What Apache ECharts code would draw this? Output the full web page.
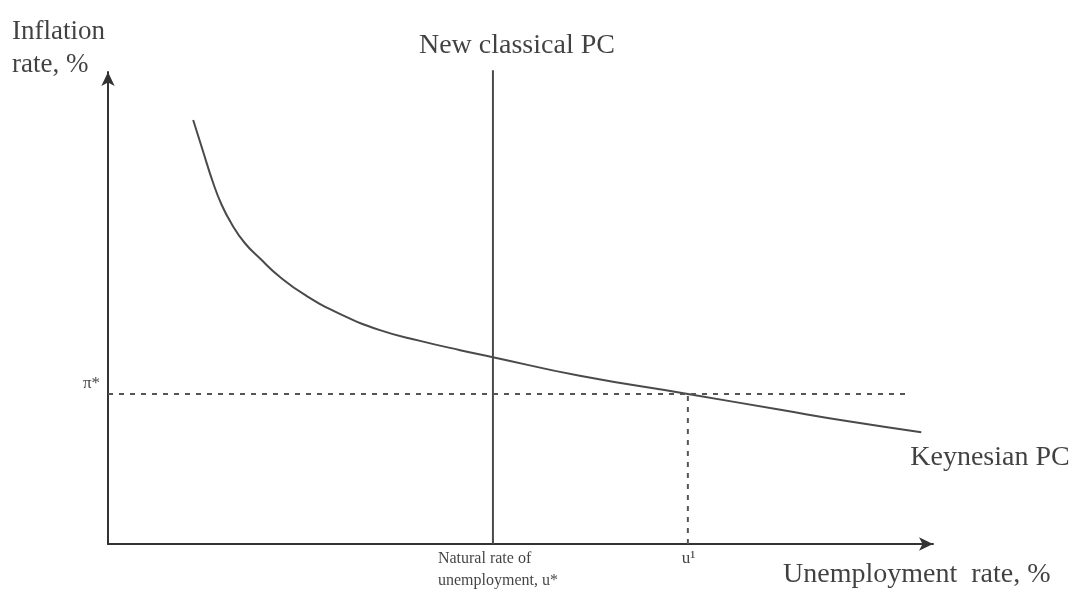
<!DOCTYPE html>
<html>
<head>
<meta charset="utf-8">
<script src="https://cdn.jsdelivr.net/npm/echarts@6/dist/echarts.min.js"></script>
<style>
html,body{margin:0;padding:0;background:#fff;}
#c{width:1083px;height:594px;}
</style>
</head>
<body>
<div id="c"></div>
<script>
// Keynesian Phillips curve points (unemployment %, inflation %)
const keynesU  = [10.4, 11.6, 12.8, 13.9, 15.1, 16.7, 18.6, 21.0, 24.1, 28.3, 33.2, 38.1, 43.0, 47.0, 57.6, 70.8, 82.1, 90.2, 99.3];
const keynesPi = [91.0, 84.3, 77.7, 72.7, 68.7, 64.6, 61.2, 57.3, 53.4, 49.4, 45.9, 43.6, 41.6, 40.1, 36.1, 32.2, 28.8, 26.4, 24.0];
// New classical PC: vertical at natural rate
const naturalRate = 47.0;
const classicalTop = 101.7;
// Reference levels
const piStar = 32.2;
const u1 = 70.8;
const piStarEnd = 97.7;
// Texts
const labelTexts = {
  yTitle: 'Inflation\nrate, %',
  xTitle: 'Unemployment  rate, %',
  keynes: 'Keynesian PC',
  classical: 'New classical PC',
  natural: 'Natural rate of\nunemployment, u*',
  u1: 'u¹',
  pi: 'π*'
};

const serif = '"Liberation Serif", "DejaVu Serif", serif';
const txt = '#111';

const chart = echarts.init(document.getElementById('c'), null, {renderer: 'canvas'});

function lbl(text, pos, size, align, vAlign, lh) {
  return {
    show: true, formatter: text, position: pos,
    fontFamily: serif, fontSize: size, color: txt, textBorderWidth: 0,
    align: align, verticalAlign: vAlign, lineHeight: lh || Math.round(size * 1.2)
  };
}

const curveData = keynesU.map((u, i) => [u, keynesPi[i]]);
const last = curveData[curveData.length - 1];

chart.setOption({
  animation: false,
  backgroundColor: '#fff',
  grid: {left: 108, right: 150, top: 72, bottom: 50, containLabel: false},
  xAxis: {
    type: 'value', min: 0, max: 100.73,
    axisLine: {show: true, lineStyle: {color: '#333', width: 2}, symbol: ['none', 'arrow'], symbolSize: [10, 14]},
    axisTick: {show: false}, axisLabel: {show: false}, splitLine: {show: false}
  },
  yAxis: {
    type: 'value', min: 0, max: 101.3,
    axisLine: {show: true, lineStyle: {color: '#333', width: 2}, symbol: ['none', 'arrow'], symbolSize: [10, 14]},
    axisTick: {show: false}, axisLabel: {show: false}, splitLine: {show: false}
  },
  series: [
    {
      type: 'line', data: curveData, smooth: 0.5, symbol: 'none', clip: false,
      lineStyle: {color: '#4a4a4a', width: 2}
    },
    {
      type: 'line', data: [[naturalRate, 0], [naturalRate, classicalTop]], symbol: 'none', clip: false,
      lineStyle: {color: '#4a4a4a', width: 2}
    },
    {
      type: 'line', data: [[0, piStar], [piStarEnd, piStar]], symbol: 'none',
      lineStyle: {color: '#555', width: 2, type: [5, 6]}
    },
    {
      type: 'line', data: [[u1, 0], [u1, piStar]], symbol: 'none',
      lineStyle: {color: '#555', width: 2, type: [5, 6]}
    },
    {
      type: 'scatter', symbolSize: 0, clip: false, silent: true,
      data: [
        {value: [0, 100], label: lbl(labelTexts.yTitle, [-96, -63], 27, 'left', 'top', 33)},
        {value: [100, 0], label: lbl(labelTexts.xTitle, [-144, 16], 28, 'left', 'top', 30)},
        {value: last, label: lbl(labelTexts.keynes, [-11, 10], 28, 'left', 'top', 30)},
        {value: [naturalRate, classicalTop], label: lbl(labelTexts.classical, [24, -39], 28, 'center', 'top', 30)},
        {value: [naturalRate, 0], label: lbl(labelTexts.natural, [-55, 4], 16, 'left', 'top', 22)},
        {value: [u1, 0], label: lbl(labelTexts.u1, [-6, 4], 17, 'left', 'top', 22)},
        {value: [0, piStar], label: lbl(labelTexts.pi, [-8, -10], 17, 'right', 'middle', 20)}
      ]
    }
  ]
});
</script>
</body>
</html>
